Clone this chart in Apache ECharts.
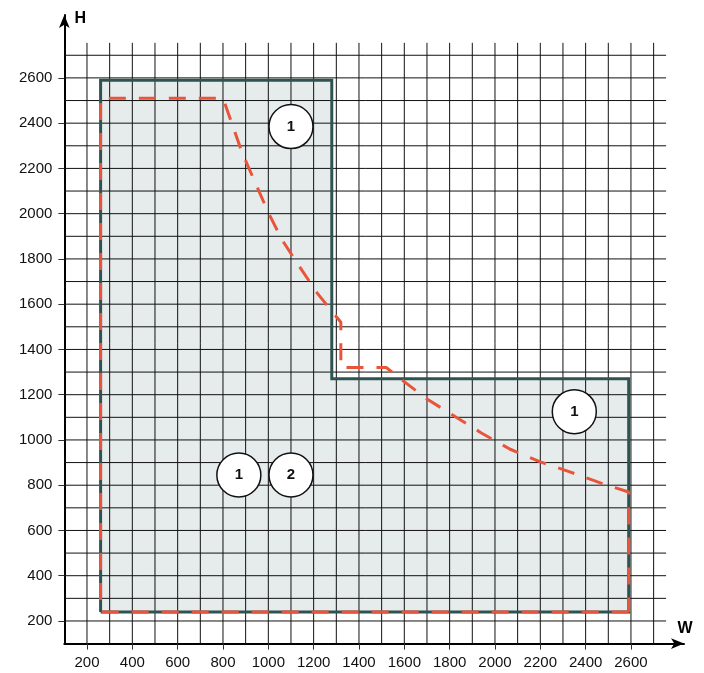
<!DOCTYPE html>
<html><head><meta charset="utf-8">
<script src="https://cdn.jsdelivr.net/npm/echarts@6/dist/echarts.min.js"></script>
<style>html,body{margin:0;padding:0;background:#fff}#c{width:704px;height:673px}</style>
</head><body><div id="c"></div>
<script>
// Axis tick labels (both axes)
const tickLabels = [200, 400, 600, 800, 1000, 1200, 1400, 1600, 1800, 2000, 2200, 2400, 2600];
// Grid line positions (every 100)
const gridLines = [200, 300, 400, 500, 600, 700, 800, 900, 1000, 1100, 1200, 1300, 1400,
  1500, 1600, 1700, 1800, 1900, 2000, 2100, 2200, 2300, 2400, 2500, 2600, 2700];
const gridEnd = 2755;
const axisNames = ['W', 'H'];
// Shaded L-shaped zone
const zoneW = [260, 260, 1280, 1280, 2590, 2590, 260];
const zoneH = [240, 2590, 2590, 1270, 1270, 240, 240];
// Red dashed limit line
const limitW = [2590, 260, 260, 800, 885, 1000, 1060, 1135, 1215, 1320, 1320, 1520, 1590, 1700, 1820, 1940, 2065, 2200, 2330, 2465, 2590, 2590];
const limitH = [240, 240, 2510, 2510, 2268, 2005, 1885, 1770, 1650, 1520, 1320, 1320, 1265, 1181, 1106, 1031, 960, 903, 859, 810, 770, 240];
// Circled markers
const markerW = [1100, 2350, 870, 1100];
const markerH = [2385, 1125, 845, 845];
const markerText = ['1', '1', '1', '2'];

const FONT = "'Liberation Sans', Arial, sans-serif";
const X_MAX = 2834, Y_MAX = 2878;
const zonePts = zoneW.map((w, i) => [w, zoneH[i]]);
const limitPts = limitW.map((w, i) => [w, limitH[i]]);
const markerPts = markerW.map((w, i) => ({ value: [w, markerH[i]], label: markerText[i] }));

const chart = echarts.init(document.getElementById('c'), null, { renderer: 'canvas' });
const axisCommon = {
  type: 'value', interval: 100, min: 100,
  axisLine: { show: true, onZero: false, symbol: ['none', 'arrow'], symbolSize: [8, 13],
    lineStyle: { color: '#000', width: 2 } },
  axisTick: { show: true, customValues: tickLabels, length: 6, lineStyle: { color: '#333', width: 1 } },
  axisLabel: { customValues: tickLabels, margin: 12, fontSize: 15, color: '#111', fontFamily: FONT,
    formatter: v => String(v) },
  splitLine: { show: false }
};
chart.setOption({
  animation: false,
  grid: { left: 64.33, right: 20, top: 15, bottom: 29.4, containLabel: false },
  xAxis: Object.assign({}, axisCommon, { max: X_MAX }),
  yAxis: Object.assign({}, axisCommon, { max: Y_MAX }),
  series: [
    {
      type: 'custom', z: 1, silent: true,
      data: zonePts,
      renderItem: function (params, api) {
        if (params.dataIndex !== 0) return;
        return { type: 'polygon', shape: { points: zonePts.map(p => api.coord(p)) },
          style: { fill: '#e6ebeb' } };
      }
    },
    {
      type: 'custom', z: 2, silent: true,
      data: gridLines.map(v => [v]),
      renderItem: function (params, api) {
        const v = api.value(0);
        const a = api.coord([v, 100]), b = api.coord([v, gridEnd]);
        const c = api.coord([100, v]), d = api.coord([gridEnd, v]);
        const st = { stroke: '#111', lineWidth: 1 };
        return { type: 'group', children: [
          { type: 'line', shape: { x1: a[0], y1: a[1], x2: b[0], y2: b[1] }, style: st },
          { type: 'line', shape: { x1: c[0], y1: c[1], x2: d[0], y2: d[1] }, style: st }
        ] };
      }
    },
    {
      type: 'line', z: 3, data: zonePts, symbol: 'none', silent: true,
      lineStyle: { color: '#2f5352', width: 3, join: 'miter' }
    },
    {
      type: 'line', z: 4, data: limitPts, symbol: 'none', silent: true,
      lineStyle: { color: '#e8553b', width: 3, type: [17, 13], cap: 'butt' }
    },
    {
      type: 'scatter', z: 5, data: markerPts, symbol: 'circle', symbolSize: 44, silent: true,
      itemStyle: { color: '#fff', borderColor: '#111', borderWidth: 1.5, opacity: 1 },
      label: { show: true, position: 'inside', formatter: p => p.data.label,
        fontSize: 15, fontWeight: 'bold', color: '#111', fontFamily: FONT }
    }
  ]
});
// Axis names placed near the arrow heads
const xEnd = chart.convertToPixel({ gridIndex: 0 }, [X_MAX, 100]);
const yEnd = chart.convertToPixel({ gridIndex: 0 }, [100, Y_MAX]);
const nameStyle = { fontSize: 16, fontWeight: 'bold', fill: '#000', fontFamily: FONT,
  textAlign: 'center', textVerticalAlign: 'middle' };
chart.setOption({
  graphic: [
    { type: 'text', x: xEnd[0] + 1, y: xEnd[1] - 15, style: Object.assign({ text: axisNames[0] }, nameStyle) },
    { type: 'text', x: yEnd[0] + 16, y: yEnd[1] + 3.5, style: Object.assign({ text: axisNames[1] }, nameStyle) }
  ]
});
</script>
</body></html>
